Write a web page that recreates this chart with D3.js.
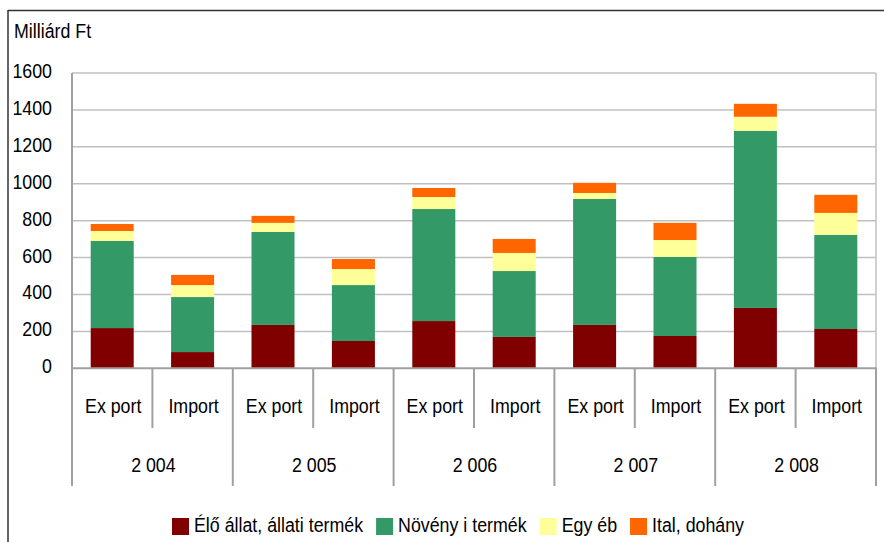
<!DOCTYPE html>
<html>
<head>
<meta charset="utf-8">
<script src="https://cdn.jsdelivr.net/npm/d3@7"></script>
<style>
  html, body { margin: 0; padding: 0; background: #fff; }
  svg { display: block; font-family: "Liberation Sans", Arial, sans-serif; }
</style>
</head>
<body>
<svg id="chart" width="884" height="542"></svg>
<script>
// ---- data ----
const years = ["2 004", "2 005", "2 006", "2 007", "2 008"];
const flows = ["Ex port", "Import"];
const seriesNames = ["Élő állat, állati termék", "Növény i termék", "Egy éb", "Ital, dohány"];
const seriesColors = ["#800000", "#339966", "#FFFF99", "#FF6600"];
const eloAllat = [218, 88, 235, 148, 256, 170, 235, 175, 327, 213];
const noveny   = [472, 298, 504, 303, 607, 357, 683, 428, 960, 510];
const egyeb    = [54, 65, 49, 87, 65, 98, 32, 92, 76, 119];
const ital     = [38, 55, 38, 54, 49, 76, 55, 93, 70, 98];
const yTicks = [0, 200, 400, 600, 800, 1000, 1200, 1400, 1600];
const yTitle = "Milliárd Ft";

(function () {
// ---- layout ----
const svg = d3.select("#chart");
const pLeft = 72, pRight = 876, pTop = 73, pBottom = 368.3;
const sx = 0.89, fs = 20;

const cats = [];
years.forEach(yr => flows.forEach(f => cats.push(yr + "|" + f)));
const rows = cats.map((c, i) => ({
  key: c, year: c.split("|")[0], flow: c.split("|")[1],
  s0: eloAllat[i], s1: noveny[i], s2: egyeb[i], s3: ital[i]
}));

const x = d3.scaleBand().domain(cats).range([pLeft, pRight]).paddingInner(0.465).paddingOuter(0.2325);
const y = d3.scaleLinear().domain([0, 1600]).range([pBottom, pTop]);

function txt(g, str, tx, ty, anchor) {
  return g.append("text")
    .attr("transform", `translate(${tx},${ty}) scale(${sx},1)`)
    .attr("text-anchor", anchor || "start")
    .attr("font-size", fs)
    .attr("fill", "#000")
    .text(str);
}

// outer frame (top + left visible)
svg.append("line").attr("x1", 8).attr("x2", 884).attr("y1", 10.5).attr("y2", 10.5)
  .attr("stroke", "#333").attr("stroke-width", 1.5);
svg.append("line").attr("x1", 8).attr("x2", 8).attr("y1", 10).attr("y2", 542)
  .attr("stroke", "#333").attr("stroke-width", 1.5);

// gridlines
svg.append("g").selectAll("line").data(yTicks.filter(t => t > 0)).join("line")
  .attr("x1", pLeft).attr("x2", pRight)
  .attr("y1", d => y(d)).attr("y2", d => y(d))
  .attr("stroke", "#C0C0C0").attr("stroke-width", 1.5);

// right plot border
svg.append("line").attr("x1", pRight).attr("x2", pRight).attr("y1", pTop).attr("y2", pBottom)
  .attr("stroke", "#C0C0C0").attr("stroke-width", 1.5);

// stacked bars
const keys = ["s0", "s1", "s2", "s3"];
const stack = d3.stack().keys(keys)(rows);
svg.append("g").selectAll("g").data(stack).join("g")
  .attr("fill", (d, i) => seriesColors[i])
  .selectAll("rect").data(d => d).join("rect")
  .attr("x", d => x(d.data.key))
  .attr("width", x.bandwidth())
  .attr("y", d => y(d[1]))
  .attr("height", d => y(d[0]) - y(d[1]));

// axes lines
svg.append("line").attr("x1", pLeft).attr("x2", pLeft).attr("y1", pTop).attr("y2", pBottom)
  .attr("stroke", "#A0A0A0").attr("stroke-width", 2);
svg.append("line").attr("x1", pLeft - 1).attr("x2", pRight + 1).attr("y1", pBottom).attr("y2", pBottom)
  .attr("stroke", "#A0A0A0").attr("stroke-width", 2);

// y tick labels
const yl = svg.append("g");
yTicks.forEach(t => txt(yl, String(t), 52, y(t) + 5, "end"));
txt(svg, yTitle, 14, 37.5, "start");

// category separators
const step = x.step();
const sep = svg.append("g").attr("stroke", "#A0A0A0").attr("stroke-width", 2);
for (let i = 0; i <= cats.length; i++) {
  const xx = pLeft + i * step;
  const isYear = i % 2 === 0;
  sep.append("line").attr("x1", xx).attr("x2", xx).attr("y1", pBottom).attr("y2", isYear ? 486 : 428);
}

// category labels
const cl = svg.append("g");
rows.forEach(r => txt(cl, r.flow, x(r.key) + x.bandwidth() / 2 + 1, 413, "middle"));
years.forEach((yr, i) => {
  const cx = pLeft + (i * 2 + 1) * step;
  txt(cl, yr, cx + 1, 471.5, "middle");
});

// legend
const lg = svg.append("g");
let lx = 172;
seriesNames.forEach((n, i) => {
  lg.append("rect").attr("x", lx).attr("y", 518).attr("width", 17).attr("height", 17)
    .attr("fill", seriesColors[i]);
  const t = txt(lg, n, lx + 22, 531.5, "start");
  const w = t.node().getComputedTextLength() * sx;
  lx = lx + 22 + w + 13;
});
})();
</script>
</body>
</html>
